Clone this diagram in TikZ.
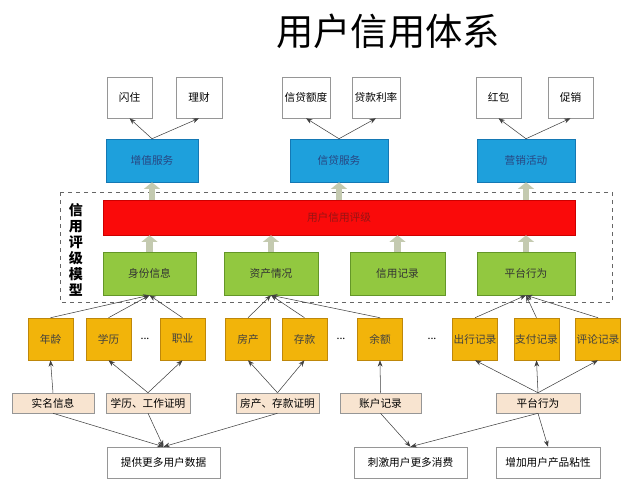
\documentclass[tikz,border=0pt]{standalone}
\usepackage{fontspec}
\setmainfont{Noto Sans CJK SC}
\usetikzlibrary{arrows.meta, positioning}
\definecolor{boxgray}{RGB}{150,150,150}
\definecolor{svcblue}{RGB}{30,160,220}
\definecolor{svcblueline}{RGB}{20,120,180}
\definecolor{svctext}{RGB}{40,70,130}
\definecolor{ratered}{RGB}{250,10,10}
\definecolor{ratetext}{RGB}{150,20,20}
\definecolor{factgreen}{RGB}{146,200,64}
\definecolor{factgreenline}{RGB}{100,150,40}
\definecolor{itemgold}{RGB}{242,180,10}
\definecolor{itemgoldline}{RGB}{190,135,10}
\definecolor{srctan}{RGB}{248,228,208}
\definecolor{blockfill}{RGB}{196,202,176}

\begin{document}
\begin{tikzpicture}[x=0.75pt, y=-0.75pt, >=Stealth,
	every node/.style={inner sep=0pt, font=\fontsize{8}{9}\selectfont},
	topbox/.style={draw=boxgray, fill=white, minimum height=30.75pt},
	svcbox/.style={draw=svcblueline, fill=svcblue, text=svctext, minimum height=32.25pt},
	factbox/.style={draw=factgreenline, fill=factgreen, text=black!80, minimum height=32.25pt},
	itembox/.style={draw=itemgoldline, fill=itemgold, text=black!75, minimum width=34pt, minimum height=31.5pt},
	srcbox/.style={draw=boxgray, fill=srctan, minimum height=15pt},
	goalbox/.style={draw=boxgray, fill=white, minimum height=23.25pt},
	link/.style={->, black!75, thin},
	blockup/.style={-{Triangle[length=5pt, width=12pt]}, line width=5pt, blockfill}]
	
	\useasboundingbox (0,0) rectangle (640,480);
	
	% Titolo
	\node[font=\fontsize{28}{30}\selectfont] (title) at (388,31) {用户信用体系};
	
	% --- Servizi in alto ---
	\node[topbox, minimum width=33.75pt] (shanzhu) at (129.5,97.5) {闪住};
	\node[topbox, minimum width=34.5pt] (licai) at (199,97.5) {理财};
	\node[topbox, minimum width=36pt] (edu) at (306,97.5) {信贷额度};
	\node[topbox, minimum width=36pt] (lilv) at (376,97.5) {贷款利率};
	\node[topbox, minimum width=33.75pt] (hongbao) at (498.5,97.5) {红包};
	\node[topbox, minimum width=33.75pt] (cuxiao) at (570.5,97.5) {促销};
	
	\node[svcbox, minimum width=69pt] (zengzhi) at (152,160.5) {增值服务};
	\node[svcbox, minimum width=73.5pt] (xindai) at (339,160.5) {信贷服务};
	\node[svcbox, minimum width=73.5pt] (yingxiao) at (526,160.5) {营销活动};
	
	\draw[link] (zengzhi.north) -- (shanzhu.south);
	\draw[link] (zengzhi.north) -- (licai.south);
	\draw[link] (xindai.north) -- (edu.south);
	\draw[link] (xindai.north) -- (lilv.south);
	\draw[link] (yingxiao.north) -- (hongbao.south);
	\draw[link] (yingxiao.north) -- (cuxiao.south);
	
	% --- Modello di rating ---
	\draw[dashed, black!60] (60,192) rectangle (612,302);
	\node[font=\fontsize{10.5}{12}\selectfont\bfseries, align=center] (modello) at (76,250)
		{信\\用\\评\\级\\模\\型};
	\node[draw=red!80!black, fill=ratered, text=ratetext, minimum width=354pt, minimum height=26.25pt]
		(rating) at (339,217.5) {用户信用评级};
	
	\node[factbox, minimum width=69.75pt] (shenfen) at (149.5,273.5) {身份信息};
	\node[factbox, minimum width=70.5pt] (zichan) at (271,273.5) {资产情况};
	\node[factbox, minimum width=71.25pt] (jilu) at (397.5,273.5) {信用记录};
	\node[factbox, minimum width=73.5pt] (pingtai) at (526,273.5) {平台行为};
	
	\draw[blockup] (rating.north -| zengzhi) -- (zengzhi.south);
	\draw[blockup] (rating.north -| xindai) -- (xindai.south);
	\draw[blockup] (rating.north -| yingxiao) -- (yingxiao.south);
	\draw[blockup] (shenfen.north) -- (rating.south -| shenfen);
	\draw[blockup] (zichan.north) -- (rating.south -| zichan);
	\draw[blockup] (jilu.north) -- (rating.south -| jilu);
	\draw[blockup] (pingtai.north) -- (rating.south -| pingtai);
	
	% --- Dati grezzi ---
	\node[itembox] (nianling) at (50.5,339) {年龄};
	\node[itembox] (xueli) at (108.5,339) {学历};
	\node (dotsa) at (145,339) {...};
	\node[itembox] (zhiye) at (182.5,339) {职业};
	\node[itembox] (fangchan) at (248,339) {房产};
	\node[itembox] (cunkuan) at (304.5,339) {存款};
	\node (dotsb) at (341,339) {...};
	\node[itembox] (yue) at (380,339) {余额};
	\node (dotsc) at (432,339) {...};
	\node[itembox] (chuxing) at (475,339) {出行记录};
	\node[itembox] (zhifu) at (536.5,339) {支付记录};
	\node[itembox] (pinglun) at (598,339) {评论记录};
	
	\foreach \src in {nianling, xueli, zhiye}
		\draw[link] (\src.north) -- (shenfen.south);
	\foreach \src in {fangchan, cunkuan, yue}
		\draw[link] (\src.north) -- (zichan.south);
	\foreach \src in {chuxing, zhifu, pinglun}
		\draw[link] (\src.north) -- (pingtai.south);
	
	% --- Fonti ---
	\node[srcbox, minimum width=61.5pt] (shiming) at (53,403) {实名信息};
	\node[srcbox, minimum width=63pt] (xuezheng) at (148,403) {学历、工作证明};
	\node[srcbox, minimum width=62.25pt] (fangzheng) at (277.5,403) {房产、存款证明};
	\node[srcbox, minimum width=60.75pt] (zhanghu) at (380.5,403) {账户记录};
	\node[srcbox, minimum width=63pt] (xingwei) at (538,403) {平台行为};
	
	\draw[link] (shiming.north) -- (nianling.south);
	\draw[link] (xuezheng.north) -- (xueli.south);
	\draw[link] (xuezheng.north) -- (zhiye.south);
	\draw[link] (fangzheng.north) -- (fangchan.south);
	\draw[link] (fangzheng.north) -- (cunkuan.south);
	\draw[link] (zhanghu.north) -- (yue.south);
	\draw[link] (xingwei.north) -- (chuxing.south);
	\draw[link] (xingwei.north) -- (zhifu.south);
	\draw[link] (xingwei.north) -- (pinglun.south);
	
	% --- Obiettivi ---
	\node[goalbox, minimum width=84.75pt] (tigong) at (163.5,462.5) {提供更多用户数据};
	\node[goalbox, minimum width=84.75pt] (ciji) at (410.5,462.5) {刺激用户更多消费};
	\node[goalbox, minimum width=78pt] (zengjia) at (548,462.5) {增加用户产品粘性};
	
	\draw[link] (shiming.south) -- (tigong.north);
	\draw[link] (xuezheng.south) -- (tigong.north);
	\draw[link] (fangzheng.south) -- (tigong.north);
	\draw[link] (zhanghu.south) -- (ciji.north);
	\draw[link] (xingwei.south) -- (ciji.north);
	\draw[link] (xingwei.south) -- (zengjia.north);
\end{tikzpicture}
\end{document}
